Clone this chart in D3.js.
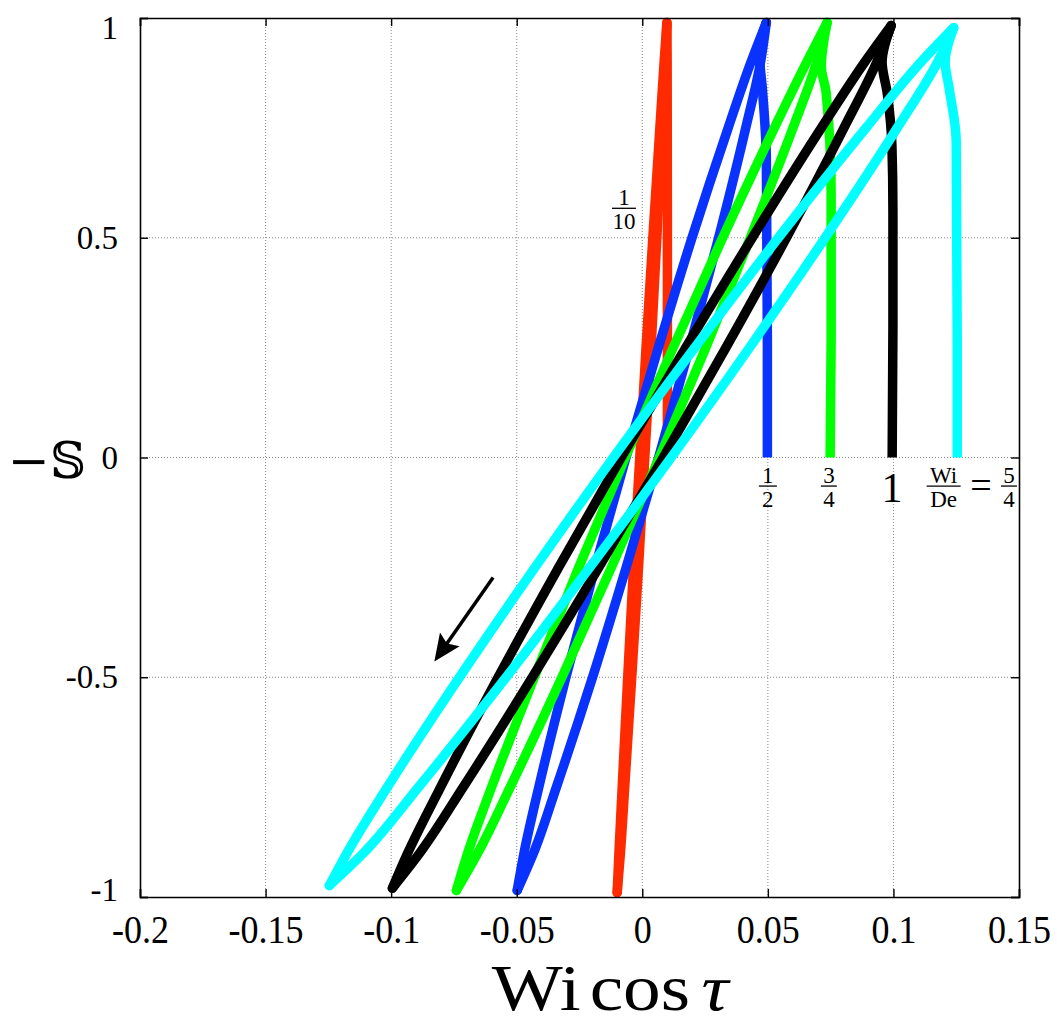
<!DOCTYPE html>
<html><head><meta charset="utf-8">
<script src="https://cdn.jsdelivr.net/npm/d3@7"></script>
<style>body{margin:0;background:#fff}</style>
</head><body>
<svg id="c" width="1057" height="1024"></svg>
<script>
// ---------- data ----------
const xTicks = [-0.2, -0.15, -0.1, -0.05, 0, 0.05, 0.1, 0.15];
const xTickLabels = ["-0.2", "-0.15", "-0.1", "-0.05", "0", "0.05", "0.1", "0.15"];
const yTicks = [-1, -0.5, 0, 0.5, 1];
const yTickLabels = ["-1", "-0.5", "0", "0.5", "1"];

const seriesNames = ["1/10", "1/2", "3/4", "1", "5/4"];
const seriesColors = ["#ff2a00", "#0a32ff", "#00ff00", "#000000", "#00ffff"];

// start-up part of each trajectory (Wi cos tau, -S)
const redTransient = [[0.0100, 0], [0.0100, 0.5], [0.0099, 0.9], [0.0098, 0.99]];
const blueTransient = [[0.0498, 0], [0.0498, 0.27], [0.0494, 0.68], [0.0478, 0.84], [0.0466, 0.92], [0.0494, 0.99]];
const greenTransient = [[0.0748, 0], [0.0752, 0.27], [0.0752, 0.6], [0.0732, 0.83], [0.0713, 0.89], [0.0736, 0.99]];
const blackTransient = [[0.0995, 0], [0.0998, 0.3], [0.0998, 0.56], [0.0994, 0.71], [0.0975, 0.83], [0.0955, 0.9], [0.0991, 0.983]];
const cyanTransient = [[0.1254, 0], [0.1254, 0.27], [0.1250, 0.72], [0.1222, 0.84], [0.1206, 0.9], [0.1240, 0.978]];

// periodic loops: top tip, descending strand, bottom tip, ascending strand
const redLoop = [[0.0098, 0.99], [0.0087, 0.9], [0.0070, 0.75], [0.0042, 0.5], [0.0015, 0.25], [-0.0010, 0], [-0.0035, -0.25], [-0.0058, -0.5], [-0.0080, -0.75], [-0.0093, -0.9],
  [-0.0100, -0.99], [-0.0087, -0.9], [-0.0070, -0.75], [-0.0042, -0.5], [-0.0015, -0.25], [0.0010, 0], [0.0035, 0.25], [0.0058, 0.5], [0.0080, 0.75], [0.0093, 0.9]];
const blueLoop = [[0.0494, 0.99], [0.0433, 0.9], [0.0342, 0.75], [0.0198, 0.5], [0.0064, 0.25], [-0.0065, 0], [-0.0188, -0.25], [-0.0304, -0.5], [-0.0412, -0.75], [-0.0471, -0.9],
  [-0.0498, -0.985], [-0.0433, -0.9], [-0.0342, -0.75], [-0.0198, -0.5], [-0.0064, -0.25], [0.0065, 0], [0.0188, 0.25], [0.0304, 0.5], [0.0412, 0.75], [0.0471, 0.9]];
const greenLoop = [[0.0736, 0.99], [0.0655, 0.9], [0.0526, 0.75], [0.0320, 0.5], [0.0123, 0.25], [-0.0068, 0], [-0.0253, -0.25], [-0.0430, -0.5], [-0.0600, -0.75], [-0.0695, -0.9],
  [-0.0740, -0.985], [-0.0655, -0.9], [-0.0526, -0.75], [-0.0320, -0.5], [-0.0123, -0.25], [0.0068, 0], [0.0253, 0.25], [0.0430, 0.5], [0.0600, 0.75], [0.0695, 0.9]];
const blackLoop = [[0.0991, 0.983], [0.0886, 0.9], [0.0713, 0.75], [0.0438, 0.5], [0.0173, 0.25], [-0.0084, 0], [-0.0333, -0.25], [-0.0574, -0.5], [-0.0803, -0.75], [-0.0934, -0.9],
  [-0.0995, -0.98], [-0.0886, -0.9], [-0.0713, -0.75], [-0.0438, -0.5], [-0.0173, -0.25], [0.0084, 0], [0.0333, 0.25], [0.0574, 0.5], [0.0803, 0.75], [0.0934, 0.9]];
const cyanLoop = [[0.1240, 0.978], [0.1110, 0.9], [0.0891, 0.75], [0.0542, 0.5], [0.0209, 0.25], [-0.0115, 0], [-0.0427, -0.25], [-0.0728, -0.5], [-0.1015, -0.75], [-0.1176, -0.9],
  [-0.1246, -0.974], [-0.1110, -0.9], [-0.0891, -0.75], [-0.0542, -0.5], [-0.0209, -0.25], [0.0115, 0], [0.0427, 0.25], [0.0728, 0.5], [0.1015, 0.75], [0.1176, 0.9]];

const transients = [redTransient, blueTransient, greenTransient, blackTransient, cyanTransient];
const loops = [redLoop, blueLoop, greenLoop, blackLoop, cyanLoop];

// arrow (direction of travel), in data units
const arrowFrom = [-0.0594, -0.273];
const arrowTo = [-0.0828, -0.464];

// ---------- chart ----------
const svg = d3.select("#c");
const L = 140, R = 1019, T = 18, B = 897;
const x = d3.scaleLinear().domain([-0.2, 0.15]).range([L, R]);
const y = d3.scaleLinear().domain([-1, 1]).range([B, T]);
const serif = "'Liberation Serif', 'Times New Roman', serif";

// grid
const grid = svg.append("g").attr("stroke", "#8a8a8a").attr("stroke-width", 1).attr("stroke-dasharray", "1,2");
xTicks.slice(1, -1).forEach(v => grid.append("line").attr("x1", x(v)).attr("x2", x(v)).attr("y1", T).attr("y2", B));
yTicks.slice(1, -1).forEach(v => grid.append("line").attr("y1", y(v)).attr("y2", y(v)).attr("x1", L).attr("x2", R));

// curves
const line = d3.line().x(d => x(d[0])).y(d => y(d[1])).curve(d3.curveMonotoneY);
const curves = svg.append("g").attr("fill", "none").attr("stroke-width", 9.5).attr("stroke-linejoin", "round");
loops.forEach((lp, i) => {
  const down = lp.slice(0, 11);
  const up = lp.slice(10).concat([lp[0]]);
  curves.append("path").attr("stroke", seriesColors[i]).attr("stroke-linecap", "round").attr("d", line(down));
  curves.append("path").attr("stroke", seriesColors[i]).attr("stroke-linecap", "round").attr("d", line(up));
  curves.append("path").attr("stroke", seriesColors[i]).attr("stroke-linecap", "butt").attr("d", line(transients[i]));
});

// axes
const ax = svg.append("g");
const xa = ax.append("g").attr("transform", `translate(0,${B})`)
  .call(d3.axisBottom(x).tickValues(xTicks).tickSize(-8).tickPadding(18).tickFormat((d, i) => xTickLabels[i]));
xa.selectAll("text").attr("font-family", serif).attr("font-size", 40).attr("fill", "#000")
  .attr("transform", "scale(0.9,1)");
const ya = ax.append("g").attr("transform", `translate(${L},0)`)
  .call(d3.axisLeft(y).tickValues(yTicks).tickSize(-8).tickPadding(22).tickFormat((d, i) => yTickLabels[i]));
ya.selectAll("text").attr("font-family", serif).attr("font-size", 33).attr("fill", "#000")
  .attr("dy", d => d === 1 ? "0.62em" : d === -1 ? "0.1em" : "0.32em");
ax.append("g").attr("transform", `translate(0,${T})`).call(d3.axisTop(x).tickValues(xTicks).tickSize(-8).tickFormat(""));
ax.append("g").attr("transform", `translate(${R},0)`).call(d3.axisRight(y).tickValues(yTicks).tickSize(-8).tickFormat(""));
ax.selectAll(".domain").attr("stroke", "#000").attr("stroke-width", 1.6);
ax.selectAll(".tick line").attr("stroke", "#000").attr("stroke-width", 1.4);

// axis titles
svg.append("text").attr("transform", "translate(610,1010) scale(1.14,1)").attr("text-anchor", "middle")
  .attr("font-family", serif).attr("font-size", 66).attr("fill", "#000")
  .call(t => {
    t.append("tspan").text("Wi");
    t.append("tspan").attr("dx", 8).text("cos");
    t.append("tspan").attr("dx", 10).attr("font-style", "italic").text("τ");
  });
svg.append("text").attr("x", 8).attr("y", 478).attr("font-family", "'DejaVu Serif', 'DejaVu Sans', serif")
  .attr("font-size", 50).attr("fill", "#000").text("−𝕊");

// arrow
const ax0 = x(arrowFrom[0]), ay0 = y(arrowFrom[1]), ax1 = x(arrowTo[0]), ay1 = y(arrowTo[1]);
const ang = Math.atan2(ay1 - ay0, ax1 - ax0);
const hl = 27, hw = 12;
const bx = ax1 - hl * Math.cos(ang), by = ay1 - hl * Math.sin(ang);
svg.append("line").attr("x1", ax0).attr("y1", ay0).attr("x2", bx + 6 * Math.cos(ang)).attr("y2", by + 6 * Math.sin(ang))
  .attr("stroke", "#000").attr("stroke-width", 3.5);
svg.append("path").attr("fill", "#000").attr("d",
  `M${ax1},${ay1}L${bx - hw * Math.sin(ang)},${by + hw * Math.cos(ang)}L${bx + 5 * Math.cos(ang)},${by + 5 * Math.sin(ang)}L${bx + hw * Math.sin(ang)},${by - hw * Math.cos(ang)}Z`);

// annotations (Wi/De values)
const ann = svg.append("g").attr("font-family", serif).attr("fill", "#000");
function frac(cx, barY, num, den, fs, halfW) {
  ann.append("text").attr("x", cx).attr("y", barY - 3).attr("text-anchor", "middle").attr("font-size", fs).text(num);
  ann.append("line").attr("x1", cx - halfW).attr("x2", cx + halfW).attr("y1", barY).attr("y2", barY).attr("stroke", "#000").attr("stroke-width", 1.3);
  ann.append("text").attr("x", cx).attr("y", barY + 21).attr("text-anchor", "middle").attr("font-size", fs).text(den);
}
frac(x(-0.0073), y(0.567), "1", "10", 23, 12);
frac(x(0.0500), y(-0.065), "1", "2", 23, 9);
frac(x(0.0743), y(-0.065), "3", "4", 23, 8);
ann.append("text").attr("x", x(0.0994)).attr("y", y(-0.101)).attr("text-anchor", "middle").attr("font-size", 42).text("1");
frac(x(0.1200), y(-0.065), "Wi", "De", 23, 17);
ann.append("text").attr("x", x(0.1349)).attr("y", y(-0.065) + 12).attr("text-anchor", "middle").attr("font-size", 38).text("=");
frac(x(0.1460), y(-0.065), "5", "4", 23, 8);
</script>
</body></html>
